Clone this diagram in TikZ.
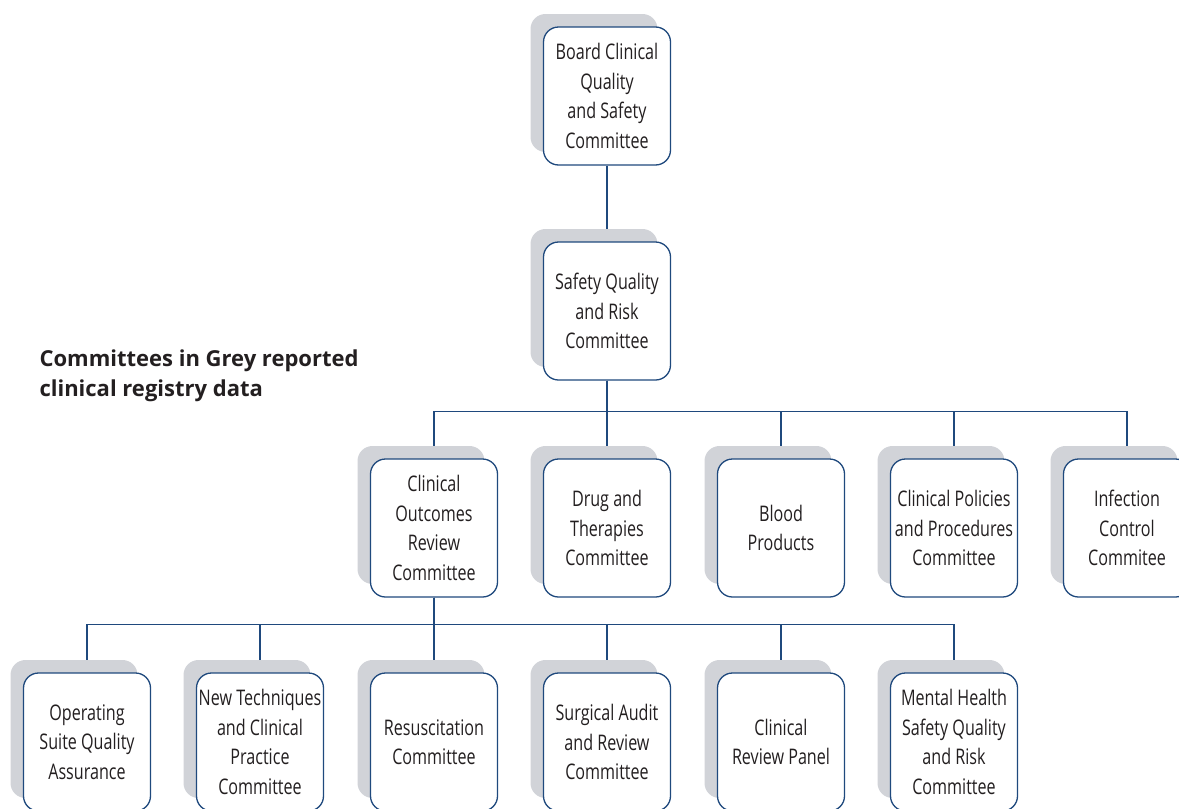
\documentclass[tikz,border=0pt]{standalone}
\usepackage{fontspec}
\setmainfont[FakeStretch=0.75]{Open Sans}
\newfontfamily\headfont{Open Sans}
\usetikzlibrary{shadows,backgrounds}
\definecolor{boxline}{RGB}{31,73,125}
\definecolor{greyshade}{RGB}{209,211,216}
\definecolor{inktext}{RGB}{35,31,32}

\begin{document}
\begin{tikzpicture}[x=1pt,y=-1pt,
  comm/.style={draw=boxline, line width=1.3pt, fill=white, rounded corners=15pt,
    minimum width=127pt, minimum height=138pt, inner sep=0pt, align=center,
    text=inktext, font=\fontsize{21.5}{29.5}\selectfont,
    copy shadow={shadow xshift=-13pt, shadow yshift=13pt, fill=greyshade, draw=none}},
  link/.style={draw=boxline, line width=1.3pt}]
\useasboundingbox (0,0) rectangle (1179,809);
% top of the tree
\node[comm] (board) at (607,96) {Board Clinical\\Quality\\and Safety\\Committee};
\node[comm] (sqr) at (607,311) {Safety Quality\\and Risk\\Committee};
\node[anchor=west, align=left, text=inktext, font=\headfont\bfseries\fontsize{22}{30}\selectfont] (legend) at (36,376)
  {Committees in Grey reported\\clinical registry data};
% middle row
\node[comm] (cor) at (434,528) {Clinical\\Outcomes\\Review\\Committee};
\node[comm] (drug) at (607,528) {Drug and\\Therapies\\Committee};
\node[comm] (blood) at (781,528) {Blood\\Products};
\node[comm] (policy) at (954,528) {Clinical Policies\\and Procedures\\Committee};
\node[comm] (infect) at (1127,528) {Infection\\Control\\Commitee};
% bottom row
\node[comm] (theatre) at (87,742) {Operating\\Suite Quality\\Assurance};
\node[comm] (newtech) at (260,742) {New Techniques\\and Clinical\\Practice\\Committee};
\node[comm] (resus) at (434,742) {Resuscitation\\Committee};
\node[comm] (surg) at (607,742) {Surgical Audit\\and Review\\Committee};
\node[comm] (panel) at (781,742) {Clinical\\Review Panel};
\node[comm] (mental) at (954,742) {Mental Health\\Safety Quality\\and Risk\\Committee};
% connectors
\begin{scope}[on background layer]
\draw[link] (board) -- (sqr);
\foreach \c in {cor,drug,blood,policy,infect}
  \draw[link] (sqr.south) -- ++(0,31) -| (\c.north);
\foreach \c in {theatre,newtech,resus,surg,panel,mental}
  \draw[link] (cor.south) -- ++(0,27) -| (\c.north);
\end{scope}
\end{tikzpicture}
\end{document}
